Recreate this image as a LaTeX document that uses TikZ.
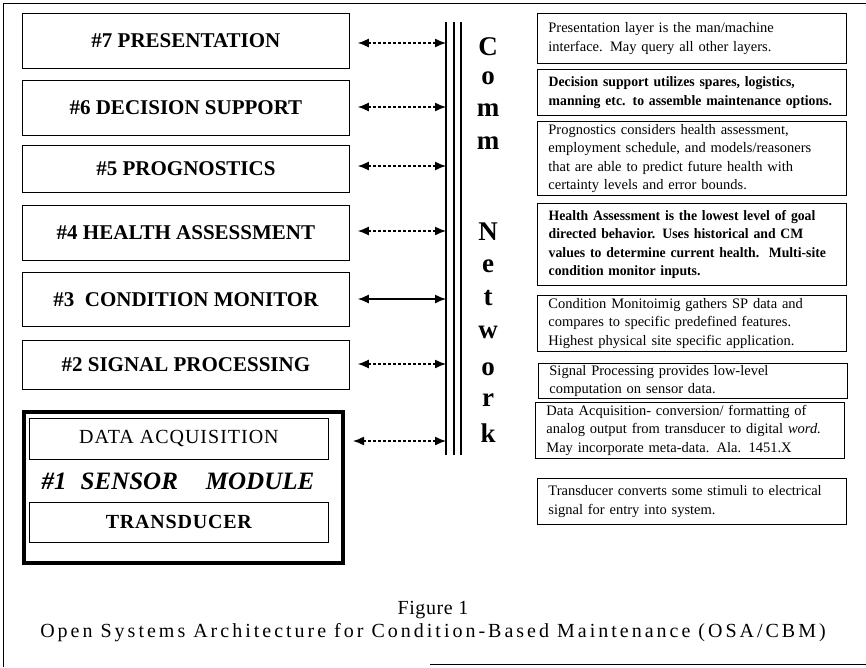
\documentclass[tikz,border=0pt]{standalone}
\usepackage{fontspec}
\setmainfont{Liberation Serif}
\usetikzlibrary{arrows.meta}
\begin{document}
\begin{tikzpicture}[x=1pt,y=-1pt,
  lbox/.style={draw, line width=0.8pt, anchor=north west, inner sep=0pt, minimum width=327pt,
    font=\bfseries\fontsize{21}{24}\selectfont},
  ibox/.style={draw, line width=0.8pt, anchor=north west, inner sep=0pt, minimum width=299pt},
  rbox/.style={draw, line width=0.8pt, anchor=north west, inner xsep=11pt, inner ysep=1pt,
    text width=287pt, align=left, font=\fontsize{14.5}{18.5}\selectfont},
  rboxb/.style={rbox, line width=1.4pt, font=\bfseries\fontsize{14.3}{18.5}\selectfont\addfontfeature{FakeStretch=0.96}},
  netletter/.style={font=\bfseries\fontsize{27}{27}\selectfont, inner sep=0pt},
  link/.style={line width=1.4pt, {Latex[length=11pt,width=9pt]}-{Latex[length=11pt,width=9pt]}},
  dlink/.style={link, dash pattern=on 3pt off 2pt}
]
\useasboundingbox (0,0) rectangle (866,667);
% outer frame
\draw[line width=0.8pt] (3,667) -- (3,3) -- (866,3);
\draw[line width=0.8pt] (430,664) -- (866,664);

% left layer boxes
\node[lbox, minimum height=55pt] (b7) at (22,13) {\#7 PRESENTATION};
\node[lbox, minimum height=55pt] (b6) at (22,80) {\#6 DECISION SUPPORT};
\node[lbox, minimum height=47pt] (b5) at (22,145) {\#5 PROGNOSTICS};
\node[lbox, minimum height=55pt] (b4) at (22,205) {\#4 HEALTH ASSESSMENT};
\node[lbox, minimum height=54pt] (b3) at (22,272) {\#3\ \ CONDITION MONITOR};
\node[lbox, minimum height=49pt] (b2) at (22,340) {\#2 SIGNAL PROCESSING};

% sensor module
\node[draw, line width=4pt, anchor=north west, inner sep=0pt, minimum width=319pt, minimum height=151pt] (sm) at (22,410) {};
\node[ibox, minimum height=41pt, font=\fontsize{20}{22}\selectfont\addfontfeature{LetterSpace=5}] (da) at (29,418) {DATA ACQUISITION};
\node[font=\bfseries\itshape\fontsize{25}{28}\selectfont, inner sep=0pt] (s1) at (178,481) {\#1\hspace{14pt}SENSOR\hspace{28pt}MODULE};
\node[ibox, minimum height=40pt, font=\bfseries\fontsize{20}{22}\selectfont\addfontfeature{LetterSpace=4}] (tr) at (29,502) {TRANSDUCER};

% comm bus
\coordinate (busTop) at (446,22);
\coordinate (busBot) at (446,455);
\draw[line width=1.3pt] (busTop) -- (busBot);
\draw[line width=2.8pt] ([xshift=8pt]busTop) -- ([xshift=8pt]busBot);
\draw[line width=1.3pt] ([xshift=15pt]busTop) -- ([xshift=15pt]busBot);

\coordinate (p7) at (446,43);
\coordinate (p6) at (446,107);
\coordinate (p5) at (446,166);
\coordinate (p4) at (446,231);
\coordinate (p3) at (446,299);
\coordinate (p2) at (446,364);
\coordinate (p1) at (446,441);
\draw[dlink] ([xshift=8pt]b7.east |- p7) -- (p7);
\draw[dlink] ([xshift=8pt]b6.east |- p6) -- (p6);
\draw[dlink] ([xshift=8pt]b5.east |- p5) -- (p5);
\draw[dlink] ([xshift=8pt]b4.east |- p4) -- (p4);
\draw[link] ([xshift=8pt]b3.east |- p3) -- (p3);
\draw[dlink] ([xshift=8pt]b2.east |- p2) -- (p2);
\draw[dlink] ([xshift=8pt]sm.east |- p1) -- (p1);

% Comm Network letters
\node[netletter] (lC) at (488,47) {C};
\node[netletter] (lo1) at (488,78) {o};
\node[netletter] (lm1) at (488,110) {m};
\node[netletter] (lm2) at (488,143) {m};
\node[netletter] (lN) at (488,232) {N};
\node[netletter] (le) at (488,266) {e};
\node[netletter] (lt) at (488,298) {t};
\node[netletter] (lw) at (488,332) {w};
\node[netletter] (lo2) at (488,369) {o};
\node[netletter] (lr) at (488,400) {r};
\node[netletter] (lk) at (488,433) {k};

% descriptions
\node[rbox, minimum height=50pt] (d7) at (537,13) {Presentation layer is the man/machine\\interface. May query all other layers.};
\node[rboxb, minimum height=46pt] (d6) at (537,69) {Decision support utilizes spares, logistics,\\manning etc. to assemble maintenance options.};
\node[rbox, minimum height=74pt] (d5) at (537,121) {Prognostics considers health assessment,\\employment schedule, and models/reasoners\\that are able to predict future health with\\certainty levels and error bounds.};
\node[rboxb, minimum height=82pt] (d4) at (537,203) {Health Assessment is the lowest level of goal\\directed behavior. Uses historical and CM\\values to determine current health.\ \ Multi-site\\condition monitor inputs.};
\node[rbox, minimum height=56pt] (d3) at (537,295) {Condition Monitoimig gathers SP data and\\compares to specific predefined features.\\Highest physical site specific application.};
\node[rbox, minimum height=35pt] (d2) at (538,363) {Signal Processing provides low-level\\computation on sensor data.};
\node[rbox, minimum height=56pt] (d1a) at (535,402) {Data Acquisition- conversion/ formatting of\\analog output from transducer to digital \textit{word.}\\May incorporate meta-data. Ala. 1451.X};
\node[rbox, minimum height=46pt] (d1t) at (537,478) {Transducer converts some stimuli to electrical\\signal for entry into system.};

% caption
\node[font=\fontsize{20}{22}\selectfont\addfontfeature{LetterSpace=3}, inner sep=0pt] (fig) at (433,610) {Figure 1};
\node[font=\fontsize{20}{22}\selectfont\addfontfeature{LetterSpace=15}, inner sep=0pt] (cap) at (433,633) {Open Systems Architecture for Condition-Based Maintenance (OSA/CBM)};
\end{tikzpicture}
\end{document}
